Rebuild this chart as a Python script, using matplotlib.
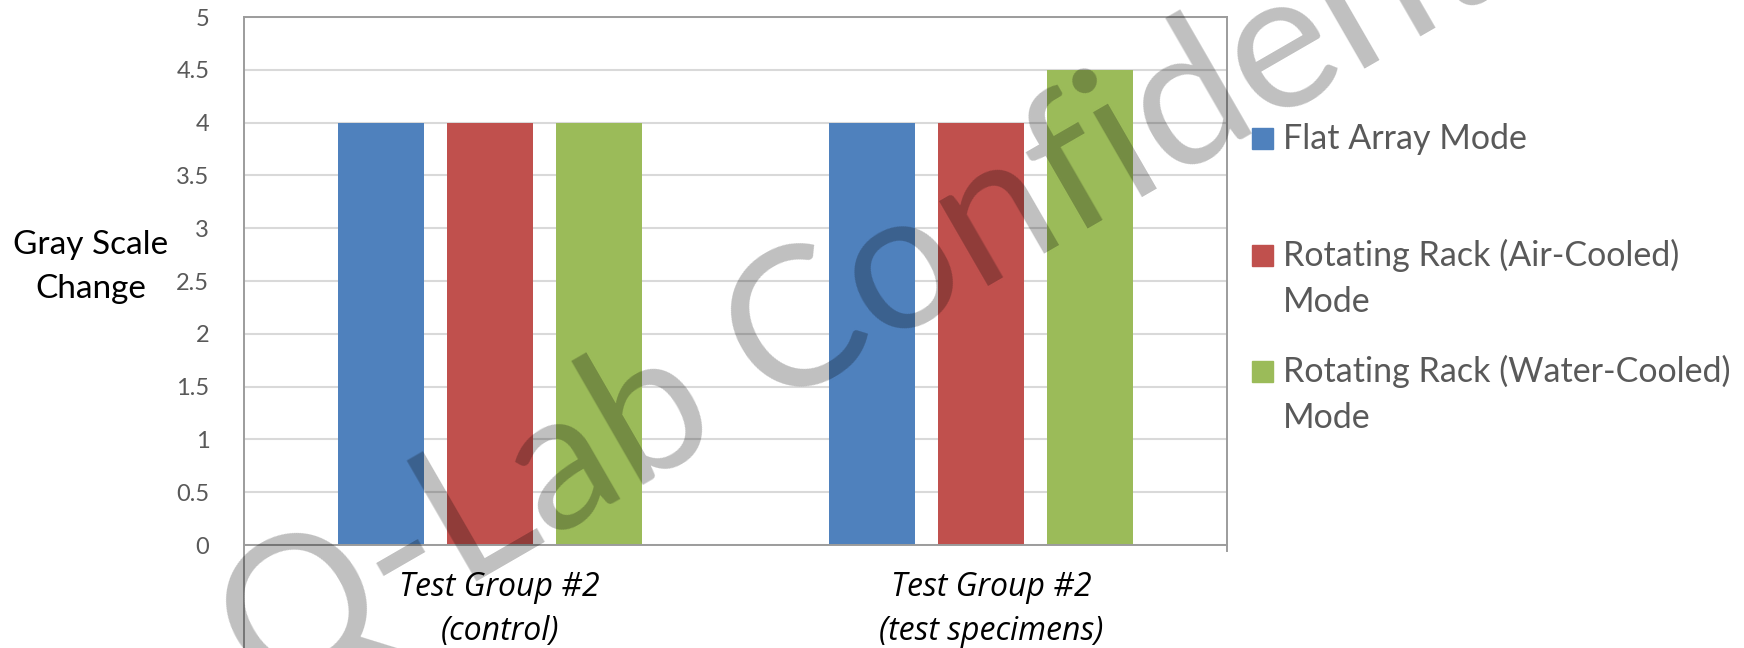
import matplotlib
matplotlib.use("Agg")
import matplotlib.pyplot as plt
import matplotlib.transforms as mtransforms
from matplotlib.patches import Rectangle
from matplotlib.lines import Line2D
from matplotlib.font_manager import FontProperties
import numpy as np

categories = ["Test Group #2\n(control)", "Test Group #2\n(test specimens)"]
series_names = ["Flat Array Mode",
                "Rotating Rack (Air-Cooled)\nMode",
                "Rotating Rack (Water-Cooled)\nMode"]
flat_array = [4, 4]
air_cooled = [4, 4]
water_cooled = [4, 4.5]
colors = ["#4F81BD", "#C0504D", "#9BBB59"]
yticks = [0, 0.5, 1, 1.5, 2, 2.5, 3, 3.5, 4, 4.5, 5]
watermark = "Q-Lab Confidential"

plt.rcParams["font.family"] = ["Lato", "DejaVu Sans"]

W, H = 1744, 648
fig = plt.figure(figsize=(W / 100, H / 100), dpi=100)
ax = fig.add_axes([244 / W, 1 - 545 / H, (1227 - 244) / W, (545 - 17) / H])

x = np.arange(len(categories))
width = 0.175
step = 0.222
for i, vals in enumerate([flat_array, air_cooled, water_cooled]):
    ax.bar(x + (i - 1) * step, vals, width, color=colors[i], zorder=2)

ax.set_xlim(-0.5, 1.5)
ax.set_ylim(0, 5)
ax.set_yticks(yticks)
ax.set_yticklabels([("%g" % t) for t in yticks], fontsize=17, color="#595959")
ax.yaxis.grid(True, color="#D9D9D9", linewidth=1.5, zorder=0)
ax.tick_params(axis="y", length=0, pad=25)
ax.set_xticks(x)
ax.set_xticklabels(categories, fontsize=23, style="italic", color="black",
                   linespacing=1.42, family=["Open Sans", "DejaVu Sans"])
ax.tick_params(axis="x", length=0, pad=19)
# labels sit a little right of the category centre
shift = mtransforms.ScaledTranslation(10 / 100, 0, fig.dpi_scale_trans)
for lab in ax.get_xticklabels():
    lab.set_transform(lab.get_transform() + shift)

for s in ["top", "right", "left", "bottom"]:
    ax.spines[s].set_color("#9C9C9C")
    ax.spines[s].set_linewidth(1.4)

# left axis line runs on to the bottom edge, right one a touch below the axis
fig.add_artist(Line2D([244 / W, 244 / W], [0, 1 - 545 / H], color="#9C9C9C", linewidth=1.4))
fig.add_artist(Line2D([1227 / W, 1227 / W], [1 - 551 / H, 1 - 545 / H], color="#9C9C9C", linewidth=1.4))

# y label, one line at a time
for line, base in zip(["Gray Scale", "Change"], [254, 298]):
    fig.text(91 / W, 1 - base / H, line, ha="center", va="baseline",
             fontsize=24, color="black")

# legend, drawn by hand
leg_base = [[149], [266, 312], [382, 428]]
for name, c, bases in zip(series_names, colors, leg_base):
    fig.add_artist(Rectangle((1252 / W, 1 - bases[0] / H), 21 / W, 21 / H,
                             transform=fig.transFigure, color=c))
    for line, base in zip(name.split("\n"), bases):
        fig.text(1283 / W, 1 - base / H, line, ha="left", va="baseline",
                 fontsize=24.5, color="#595959")

# watermark: size it so "C" and the first "e" are ~537 px apart
# (a bit more, Lato runs narrower), centre of the "C" at (790, 320) px
wm_rot = 30
renderer = fig.canvas.get_renderer()


def widths(size):
    prop = FontProperties(family="Lato", size=size)
    w1 = renderer.get_text_width_height_descent("Q-Lab ", prop, False)[0]
    w2 = renderer.get_text_width_height_descent("Q-Lab Confid", prop, False)[0]
    wc, hc, dc = renderer.get_text_width_height_descent("C", prop, False)
    we = renderer.get_text_width_height_descent("e", prop, False)[0]
    return prop, w1, w2, wc, hc - dc, we


_, w1, w2, wc, cap, we = widths(100)
wm_size = 1.04 * 100 * 537 / ((w2 + we / 2) - (w1 + wc / 2))
prop, w1, w2, wc, cap, we = widths(wm_size)
t = np.radians(wm_rot)
u = np.array([np.cos(t), np.sin(t)])
v = np.array([-np.sin(t), np.cos(t)])
target = np.array([790, H - 320])
p = target - (w1 + wc / 2) * u - (cap / 2) * v
fig.text(p[0] / W, p[1] / H, watermark, rotation=wm_rot, rotation_mode="anchor",
         ha="left", va="baseline", fontproperties=prop, color="black", alpha=0.25, zorder=10)

fig.savefig("out.png", dpi=100)
